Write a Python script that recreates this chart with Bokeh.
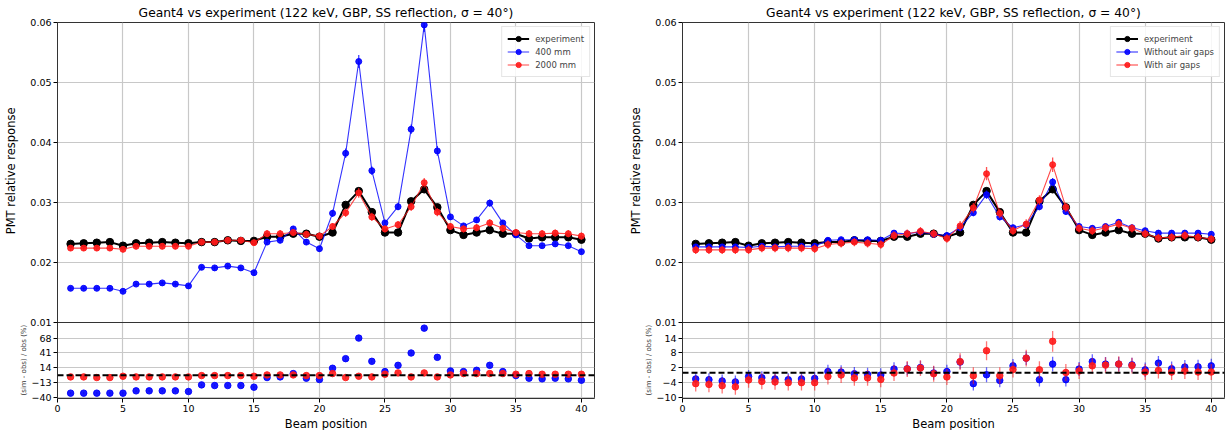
import numpy as np
from bokeh.plotting import figure
from bokeh.models import (Range1d, FixedTicker, CustomJSTickFormatter, Span, Title,
                          Legend, LegendItem)
from bokeh.layouts import row
from bokeh.embed import file_html
from bokeh.resources import INLINE

# ---------------- data ----------------
positions = list(range(1, 41))

experiment = [0.0231, 0.0232, 0.0233, 0.0234, 0.0228, 0.0232, 0.0233, 0.0234, 0.0233, 0.0232,
              0.0234, 0.0234, 0.0237, 0.0236, 0.0236, 0.0243, 0.0243, 0.0248, 0.0248, 0.0243,
              0.0250, 0.0296, 0.0319, 0.0284, 0.0250, 0.0250, 0.0302, 0.0322, 0.0292, 0.0254,
              0.0246, 0.0250, 0.0254, 0.0248, 0.0248, 0.0240, 0.0242, 0.0242, 0.0242, 0.0238]

sim_400mm = [0.0157, 0.0157, 0.0157, 0.0157, 0.0152, 0.0164, 0.0164, 0.0166, 0.0164, 0.0161,
             0.0192, 0.0191, 0.0194, 0.0191, 0.0183, 0.0234, 0.0237, 0.0256, 0.0234, 0.0223,
             0.0282, 0.0382, 0.0535, 0.0353, 0.0266, 0.0293, 0.0422, 0.0596, 0.0386, 0.0276,
             0.0261, 0.0271, 0.0299, 0.0266, 0.0246, 0.0228, 0.0228, 0.0231, 0.0228, 0.0218]
sim_400mm_err = [0.0003, 0.0003, 0.0003, 0.0003, 0.0003, 0.0003, 0.0003, 0.0003, 0.0003, 0.0003,
                 0.0004, 0.0004, 0.0004, 0.0004, 0.0004, 0.0005, 0.0005, 0.0005, 0.0005, 0.0005,
                 0.0006, 0.0008, 0.0011, 0.0007, 0.0005, 0.0006, 0.0008, 0.0012, 0.0008, 0.0005,
                 0.0005, 0.0005, 0.0006, 0.0005, 0.0005, 0.0004, 0.0004, 0.0004, 0.0004, 0.0004]

sim_2000mm = [0.0224, 0.0224, 0.0224, 0.0224, 0.0222, 0.0227, 0.0227, 0.0227, 0.0227, 0.0227,
              0.0234, 0.0234, 0.0237, 0.0237, 0.0233, 0.0248, 0.0248, 0.0250, 0.0247, 0.0244,
              0.0260, 0.0283, 0.0316, 0.0276, 0.0256, 0.0263, 0.0293, 0.0333, 0.0284, 0.0260,
              0.0256, 0.0258, 0.0266, 0.0257, 0.0250, 0.0248, 0.0248, 0.0249, 0.0248, 0.0244]
sim_2000mm_err = [0.0005, 0.0005, 0.0005, 0.0005, 0.0005, 0.0005, 0.0005, 0.0005, 0.0005, 0.0005,
                  0.0005, 0.0005, 0.0005, 0.0005, 0.0005, 0.0006, 0.0006, 0.0006, 0.0006, 0.0006,
                  0.0006, 0.0007, 0.0008, 0.0007, 0.0006, 0.0006, 0.0007, 0.0008, 0.0007, 0.0006,
                  0.0006, 0.0006, 0.0006, 0.0006, 0.0006, 0.0006, 0.0006, 0.0006, 0.0006, 0.0006]

sim_no_gaps = [0.0226, 0.0226, 0.0226, 0.0226, 0.0225, 0.0227, 0.0226, 0.0227, 0.0227, 0.0227,
               0.0237, 0.0238, 0.0238, 0.0238, 0.0237, 0.0249, 0.0248, 0.0251, 0.0247, 0.0245,
               0.0258, 0.0283, 0.0313, 0.0276, 0.0258, 0.0263, 0.0293, 0.0334, 0.0285, 0.0260,
               0.0257, 0.0260, 0.0267, 0.0258, 0.0253, 0.0249, 0.0249, 0.0249, 0.0249, 0.0247]
sim_no_gaps_err = [0.0005, 0.0005, 0.0005, 0.0005, 0.0005, 0.0005, 0.0005, 0.0005, 0.0005, 0.0005,
                   0.0005, 0.0005, 0.0005, 0.0005, 0.0005, 0.0005, 0.0005, 0.0005, 0.0005, 0.0005,
                   0.0006, 0.0006, 0.0007, 0.0006, 0.0005, 0.0006, 0.0006, 0.0007, 0.0006, 0.0005,
                   0.0005, 0.0005, 0.0005, 0.0005, 0.0005, 0.0005, 0.0005, 0.0005, 0.0005, 0.0005]

sim_with_gaps = [0.0221, 0.0221, 0.0221, 0.0221, 0.0221, 0.0224, 0.0224, 0.0224, 0.0224, 0.0223,
                 0.0230, 0.0232, 0.0234, 0.0232, 0.0230, 0.0245, 0.0248, 0.0252, 0.0248, 0.0240,
                 0.0261, 0.0291, 0.0348, 0.0282, 0.0253, 0.0264, 0.0304, 0.0363, 0.0292, 0.0257,
                 0.0253, 0.0258, 0.0264, 0.0257, 0.0248, 0.0241, 0.0242, 0.0245, 0.0242, 0.0239]
sim_with_gaps_err = [0.0007, 0.0007, 0.0007, 0.0007, 0.0007, 0.0007, 0.0007, 0.0007, 0.0007, 0.0007,
                     0.0007, 0.0007, 0.0007, 0.0007, 0.0007, 0.0007, 0.0007, 0.0007, 0.0007, 0.0007,
                     0.0008, 0.0008, 0.0011, 0.0008, 0.0007, 0.0008, 0.0008, 0.0012, 0.0008, 0.0007,
                     0.0007, 0.0007, 0.0007, 0.0007, 0.0007, 0.0007, 0.0007, 0.0007, 0.0007, 0.0007]

res_400mm = [-32.7, -32.7, -32.7, -32.7, -32.7, -28.5, -28.5, -28.5, -28.5, -29.7,
             -17.6, -18.8, -18.8, -18.8, -21.8, -4.2, -3.0, 3.1, -5.4, -7.8,
             12.8, 30.4, 68.0, 25.5, 6.7, 18.2, 40.7, 86.2, 32.8, 7.9,
             6.7, 9.1, 18.2, 6.7, -0.6, -5.4, -6.6, -5.4, -6.6, -9.1]
res_400mm_err = [2.0, 2.0, 2.0, 2.0, 2.0, 2.0, 2.0, 2.0, 2.0, 2.0,
                 2.2, 2.2, 2.2, 2.2, 2.2, 2.5, 2.5, 2.5, 2.5, 2.5,
                 2.8, 3.2, 4.0, 3.0, 2.6, 2.8, 3.4, 4.4, 3.2, 2.6,
                 2.6, 2.6, 2.8, 2.6, 2.5, 2.4, 2.4, 2.4, 2.4, 2.4]
res_2000mm = [-3.0, -3.0, -4.2, -4.2, -1.8, -3.0, -3.0, -3.0, -3.0, -3.0,
              -0.6, -0.6, -0.6, -0.6, -1.8, 0.6, 0.6, 0.6, -0.6, -0.6,
              3.1, -4.2, -1.8, -3.0, 1.9, 4.3, -3.0, 4.3, -3.0, 0.6,
              3.1, 3.1, 3.1, 3.1, 1.9, 3.1, 1.9, 1.9, 1.9, 1.9]
res_2000mm_err = [3.0, 3.0, 3.0, 3.0, 3.0, 3.0, 3.0, 3.0, 3.0, 3.0,
                  3.0, 3.0, 3.0, 3.0, 3.0, 3.0, 3.0, 3.0, 3.0, 3.0,
                  3.2, 3.4, 3.6, 3.4, 3.2, 3.2, 3.4, 3.6, 3.4, 3.2,
                  3.0, 3.0, 3.0, 3.0, 3.0, 3.0, 3.0, 3.0, 3.0, 3.0]

res_no_gaps = [-2.5, -2.8, -3.3, -3.7, -1.5, -2.0, -2.5, -2.8, -2.5, -2.3,
               0.5, 0.3, -0.4, -0.7, -0.9, 1.5, 1.6, 2.1, -0.1, 0.5,
               4.3, -4.4, -0.8, -3.1, 2.8, 5.9, -2.8, 3.5, -2.8, 1.5,
               4.5, 3.5, 3.5, 3.2, 1.2, 3.9, 1.6, 2.3, 2.4, 2.8]
res_no_gaps_err = [2.6, 2.6, 2.6, 2.6, 2.6, 2.6, 2.6, 2.6, 2.6, 2.6,
                   2.7, 2.7, 2.7, 2.7, 2.7, 2.7, 2.7, 2.7, 2.7, 2.7,
                   2.8, 2.8, 3.0, 2.8, 2.8, 2.8, 2.8, 3.0, 2.8, 2.8,
                   3.0, 2.9, 2.9, 2.9, 2.9, 2.9, 2.9, 2.9, 2.9, 2.9]
res_with_gaps = [-4.4, -4.7, -5.2, -5.7, -2.9, -3.5, -3.7, -4.0, -4.0, -4.0,
                 -1.5, -0.9, -2.1, -2.1, -2.7, -0.1, 1.5, 1.9, -0.4, -1.7,
                 4.5, -1.2, 8.9, -1.2, 1.3, 5.9, 1.2, 12.7, 0.1, 0.7,
                 2.8, 3.1, 3.5, 2.9, 0.3, 0.9, 0.3, 0.7, 0.3, 0.3]
res_with_gaps_err = [3.2, 3.2, 3.2, 3.2, 3.2, 3.2, 3.2, 3.2, 3.2, 3.2,
                     3.2, 3.2, 3.2, 3.2, 3.2, 3.2, 3.2, 3.2, 3.2, 3.2,
                     3.4, 3.4, 3.8, 3.4, 3.2, 3.4, 3.4, 4.2, 3.4, 3.2,
                     3.2, 3.2, 3.2, 3.2, 3.2, 3.2, 3.2, 3.2, 3.2, 3.2]

title_text = "Geant4 vs experiment (122 keV, GBP, SS reflection, \u03c3 = 40\u00b0)"
main_ticks = [0.01, 0.02, 0.03, 0.04, 0.05, 0.06]
x_ticks = [0, 5, 10, 15, 20, 25, 30, 35, 40]
left_res_ticks = [-40, -13, 14, 41, 68]
right_res_ticks = [-10, -4, 2, 8, 14]

# ---------------- layout / style ----------------
FONT = "DejaVu Sans"
H_MAIN, H_RES = 300, 76
X_MAX = 41
BORDER_LEFT = 57
BLUE = "#0000ff"
RED = "#ff1a1a"
GRID = "#c8c8c8"


def make_panel(frame_w, border_right, sims, sim_errs, sim_labels, sim_colors,
               resids, resid_errs, r_lo, r_top, r_ticks):
    y_lo = 0.01 - H_RES / H_MAIN * 0.05
    res_end = r_lo + (r_top - r_lo) * (H_MAIN + H_RES) / H_RES

    def to_main(r):
        return y_lo + (r - r_lo) / (r_top - r_lo) * (0.01 - y_lo)

    p = figure(frame_width=frame_w, frame_height=H_MAIN + H_RES,
               x_range=Range1d(0, X_MAX), y_range=Range1d(y_lo, 0.06),
               output_backend="svg", toolbar_location=None,
               min_border_left=BORDER_LEFT, min_border_right=border_right,
               min_border_top=22, min_border_bottom=32,
               title=title_text)
    p.extra_y_ranges = {"res": Range1d(r_lo, res_end)}

    p.title.align = "center"
    p.title.text_font = FONT
    p.title.text_font_style = "normal"
    p.title.text_font_size = "12.3px"
    p.title.text_color = "black"
    p.title.standoff = 5

    p.outline_line_color = "#333333"
    p.outline_line_width = 1
    p.background_fill_color = "white"
    p.border_fill_color = "white"

    mapped = [to_main(r) for r in r_ticks]
    p.yaxis.ticker = FixedTicker(ticks=main_ticks + mapped)
    p.yaxis.formatter = CustomJSTickFormatter(
        args=dict(lo=y_lo, rlo=r_lo, rtop=r_top),
        code="""
        if (tick < 0.0099) {
            const r = Math.round(rlo + (tick - lo) / (0.01 - lo) * (rtop - rlo));
            return r < 0 ? '\\u2212' + Math.abs(r) : '' + r;
        }
        return tick.toFixed(2);
        """)
    p.xaxis.ticker = FixedTicker(ticks=x_ticks)
    p.xaxis.axis_label = "Beam position"

    for ax in (p.xaxis[0], p.yaxis[0]):
        ax.axis_line_color = None
        ax.major_tick_line_color = "black"
        ax.major_tick_out = 4
        ax.major_tick_in = 0
        ax.minor_tick_line_color = None
        ax.major_label_text_font = FONT
        ax.major_label_text_font_size = "9.5px"
        ax.major_label_text_color = "black"
        ax.major_label_standoff = 2
        ax.axis_label_text_font = FONT
        ax.axis_label_text_font_size = "11.5px"
        ax.axis_label_text_font_style = "normal"
        ax.axis_label_text_color = "black"
        ax.axis_label_standoff = 2

    p.xgrid.ticker = FixedTicker(ticks=x_ticks)
    p.ygrid.ticker = FixedTicker(ticks=[0.02, 0.03, 0.04, 0.05] + mapped)
    p.xgrid.grid_line_color = GRID
    p.ygrid.grid_line_color = GRID
    p.xgrid.grid_line_width = 1.2
    p.ygrid.grid_line_width = 1.2

    p.add_layout(Span(location=0.01, dimension="width", line_color="#333333", line_width=1))
    p.add_layout(Span(location=to_main(0), dimension="width", line_color="black",
                      line_width=1.8, line_dash="6 3"))

    # main panel
    items = []
    l0 = p.line(positions, experiment, line_color="black", line_width=2)
    s0 = p.scatter(positions, experiment, marker="circle", size=7.5,
                   fill_color="black", line_color="black")
    items.append(LegendItem(label="experiment", renderers=[l0, s0]))
    for vals, errs, lab, col in zip(sims, sim_errs, sim_labels, sim_colors):
        lo = [v - e for v, e in zip(vals, errs)]
        hi = [v + e for v, e in zip(vals, errs)]
        p.segment(positions, lo, positions, hi, line_color=col, line_width=1.3, line_alpha=0.75)
        ln = p.line(positions, vals, line_color=col, line_width=1.1, line_alpha=0.8)
        sc = p.scatter(positions, vals, marker="circle", size=6, fill_color=col,
                       line_color=col, fill_alpha=0.9, line_alpha=0.9)
        items.append(LegendItem(label=lab, renderers=[ln, sc]))

    # residual panel
    for vals, errs, col in zip(resids, resid_errs, sim_colors):
        lo = [v - e for v, e in zip(vals, errs)]
        hi = [v + e for v, e in zip(vals, errs)]
        p.segment(positions, lo, positions, hi, line_color=col, line_width=1.3,
                  line_alpha=0.6, y_range_name="res")
        p.scatter(positions, vals, marker="circle", size=6.5, fill_color=col,
                  line_color=col, fill_alpha=0.9, line_alpha=0.9, y_range_name="res")

    legend = Legend(items=items, location="top_right", margin=4, padding=5, spacing=0,
                    glyph_width=22, glyph_height=13, label_height=13, label_standoff=6,
                    label_text_font=FONT, label_text_font_size="8.5px",
                    border_line_color="#cccccc", border_line_width=1,
                    background_fill_alpha=0.85)
    p.add_layout(legend)

    # vertical axis titles (residual one nearest the axis, main one outside it)
    p.add_layout(Title(text="(sim - obs) / obs (%)", align="left", offset=3, standoff=0,
                       text_font=FONT, text_font_size="7px", text_font_style="normal",
                       text_color="#333333"), "left")
    p.add_layout(Title(text="PMT relative response", align="right", offset=85, standoff=0,
                       text_font=FONT, text_font_size="11.5px", text_font_style="normal",
                       text_color="black"), "left")
    return p


left = make_panel(594 - BORDER_LEFT, 31, [sim_400mm, sim_2000mm], [sim_400mm_err, sim_2000mm_err],
                  ["400 mm", "2000 mm"], [BLUE, RED],
                  [res_400mm, res_2000mm], [res_400mm_err, res_2000mm_err],
                  -42.5, 96.5, left_res_ticks)
right = make_panel(1224 - 625 - BORDER_LEFT, 6, [sim_no_gaps, sim_with_gaps],
                   [sim_no_gaps_err, sim_with_gaps_err],
                   ["Without air gaps", "With air gaps"], [BLUE, RED],
                   [res_no_gaps, res_with_gaps], [res_no_gaps_err, res_with_gaps_err],
                   -10.4, 20.3, right_res_ticks)

layout = row(left, right)
open("out.html", "w").write(file_html(layout, INLINE))
